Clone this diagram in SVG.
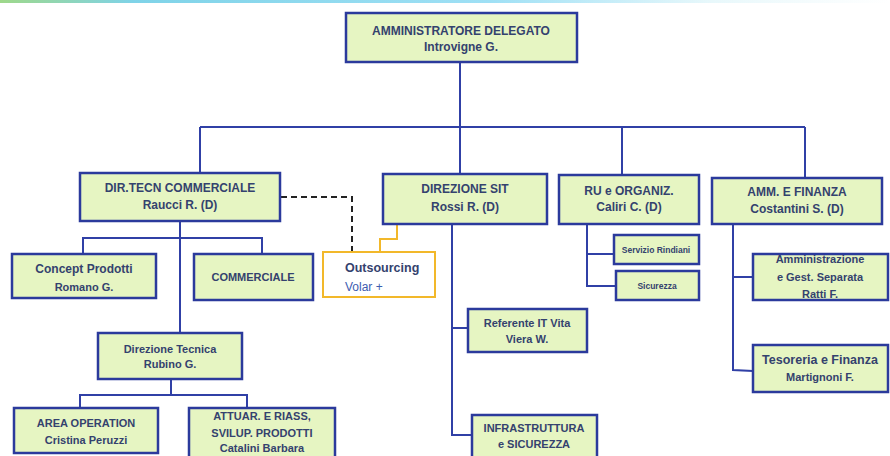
<svg xmlns="http://www.w3.org/2000/svg" width="890" height="456" viewBox="0 0 890 456">
<defs>
<linearGradient id="topg" x1="0" y1="0" x2="1" y2="0">
<stop offset="0" stop-color="#9ed88a"/>
<stop offset="0.15" stop-color="#7fd3e8"/>
<stop offset="0.55" stop-color="#9fe0f5"/>
<stop offset="0.8" stop-color="#e8f8fb"/>
<stop offset="1" stop-color="#ffffff"/>
</linearGradient>
</defs>
<style>
.b{fill:#e6f5c2;stroke:#2b3a9c;stroke-width:2.5}
.o{fill:#ffffff;stroke:#f2b82a;stroke-width:2}
.l{fill:none;stroke:#3040a6;stroke-width:2}
.y{fill:none;stroke:#f2b82a;stroke-width:2}
.d{fill:none;stroke:#222222;stroke-width:2;stroke-dasharray:6 4}
text{font-family:"Liberation Sans",Arial,sans-serif;fill:#34426e;text-anchor:middle;font-weight:bold}
.t{font-size:12px}
.s{font-size:11px}
.xs{font-size:8.5px}
</style>
<rect x="0" y="0" width="890" height="3" fill="url(#topg)"/>
<g id="connectors">
<path class="l" d="M460 62V127M200 127H805M200 127V172M460 127V174M622 127V175M805 127V178"/>
<path class="l" d="M180 221V333M83 254V238H262V254"/>
<path class="l" d="M171 379V395M80 408V395H247V408"/>
<path class="l" d="M452 224V435H472M452 328H468"/>
<path class="l" d="M587 224V286H616M587 254H614"/>
<path class="l" d="M733 224V370L753 371M733 277H753"/>
<path class="d" d="M281 197H352V252"/>
<path class="y" d="M380 252V239H397V224"/>
</g>
<g id="ad"><rect class="b" x="346" y="13" width="231" height="49"/><text class="t" x="461" y="35">AMMINISTRATORE DELEGATO</text><text class="t" x="461" y="51">Introvigne G.</text></g>
<g id="dirtecn"><rect class="b" x="80" y="173" width="200" height="48"/><text class="t" x="180" y="192">DIR.TECN COMMERCIALE</text><text class="t" x="180" y="209">Raucci R. (D)</text></g>
<g id="sit"><rect class="b" x="383" y="174" width="164" height="50"/><text class="t" x="465" y="193">DIREZIONE SIT</text><text class="t" x="465" y="211">Rossi R. (D)</text></g>
<g id="ru"><rect class="b" x="559" y="175" width="140" height="49"/><text class="t" x="629" y="195">RU e ORGANIZ.</text><text class="t" x="629" y="211">Caliri C. (D)</text></g>
<g id="amm"><rect class="b" x="712" y="178" width="170" height="46"/><text class="t" x="797" y="196">AMM. E FINANZA</text><text class="t" x="797" y="213">Costantini S. (D)</text></g>
<g id="concept"><rect class="b" x="12" y="254" width="144" height="44"/><text class="t" x="84" y="273">Concept Prodotti</text><text class="s" x="84" y="291">Romano G.</text></g>
<g id="commerciale"><rect class="b" x="194" y="254" width="119" height="46"/><text class="s" x="253" y="281">COMMERCIALE</text></g>
<g id="outsourcing"><rect class="o" x="323" y="252" width="112" height="45"/><text x="345" y="272" style="text-anchor:start;font-size:12.5px">Outsourcing</text><text x="345" y="291" style="text-anchor:start;fill:#3d5cb0;font-weight:normal;font-size:12px">Volar +</text></g>
<g id="dirtecnica"><rect class="b" x="98" y="333" width="144" height="46"/><text class="s" x="170" y="353">Direzione  Tecnica</text><text class="s" x="170" y="368">Rubino  G.</text></g>
<g id="areaop"><rect class="b" x="14" y="408" width="144" height="45"/><text class="s" x="86" y="427">AREA OPERATION</text><text class="s" x="86" y="444">Cristina  Peruzzi</text></g>
<g id="attuar"><rect class="b" x="189" y="408" width="146" height="52"/><text class="s" x="262" y="420">ATTUAR. E RIASS,</text><text class="s" x="262" y="437">SVILUP. PRODOTTI</text><text class="s" x="262" y="452">Catalini  Barbara</text></g>
<g id="referente"><rect class="b" x="468" y="309" width="119" height="43"/><text class="s" x="527" y="327">Referente IT Vita</text><text class="s" x="527" y="343">Viera W.</text></g>
<g id="infra"><rect class="b" x="472" y="415" width="125" height="45"/><text class="s" x="534" y="432">INFRASTRUTTURA</text><text class="s" x="534" y="448">e SICUREZZA</text></g>
<g id="servizio"><rect class="b" x="614" y="235" width="85" height="29"/><text class="xs" x="656" y="253">Servizio Rindiani</text></g>
<g id="sicurezza"><rect class="b" x="616" y="271" width="83" height="29"/><text class="xs" x="657" y="289">Sicurezza</text></g>
<g id="amministrazione"><rect class="b" x="753" y="254" width="135" height="46"/><text class="s" x="820" y="263">Amministrazione</text><text class="s" x="820" y="281">e Gest. Separata</text><text class="s" x="820" y="298">Ratti F.</text></g>
<g id="tesoreria"><rect class="b" x="753" y="345" width="135" height="47"/><text x="820" y="364" style="font-size:12.5px">Tesoreria e Finanza</text><text class="s" x="820" y="381">Martignoni F.</text></g>
</svg>
